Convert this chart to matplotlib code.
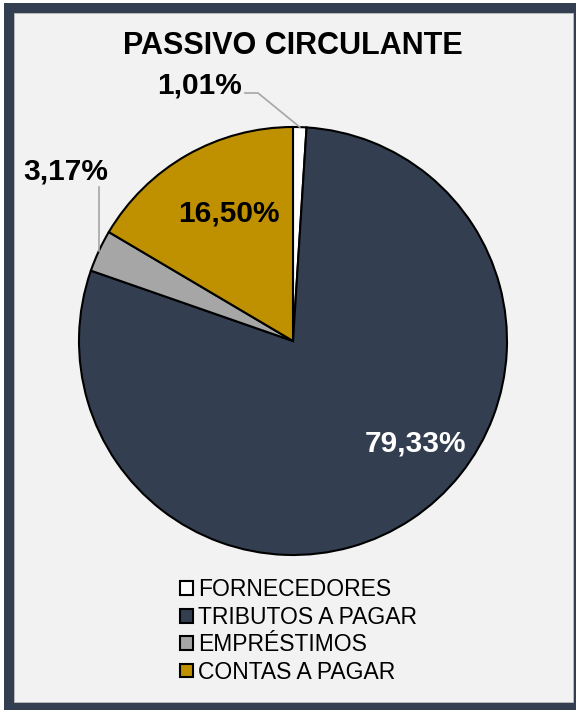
import matplotlib.pyplot as plt
from matplotlib.patches import Rectangle, Patch
import numpy as np

plt.rcParams['font.family'] = ['Liberation Sans', 'DejaVu Sans']

categorias = ['FORNECEDORES', 'TRIBUTOS A PAGAR', 'EMPRÉSTIMOS', 'CONTAS A PAGAR']
valores = [1.01, 79.33, 3.17, 16.50]
rotulos = ['1,01%', '79,33%', '3,17%', '16,50%']
cores = ['#FFFFFF', '#333F50', '#A6A6A6', '#BF9000']

W, H = 576, 710
fig = plt.figure(figsize=(W / 100, H / 100), dpi=100, facecolor='white')

# moldura escura + fundo cinza claro
fig.patches.append(Rectangle((4 / W, 0), 1, 1 - 3 / H, transform=fig.transFigure,
                             facecolor='#333F50', edgecolor='none', zorder=-2))
fig.patches.append(Rectangle((14 / W, (H - 702) / H), (573 - 14) / W, (702 - 13) / H,
                             transform=fig.transFigure, facecolor='#F2F2F2',
                             edgecolor='#BFBFBF', linewidth=0.6, zorder=-1))

fig.text(293 / W, 1 - 46 / H, 'PASSIVO CIRCULANTE', ha='center', va='center',
         fontsize=22, fontweight='bold')

# pizza
cx, cy, r = 293, 341, 214
ax = fig.add_axes([(cx - r) / W, (H - cy - r) / H, 2 * r / W, 2 * r / H])
ax.set_facecolor('none')
wedges, _ = ax.pie(valores, colors=cores, startangle=90, counterclock=False,
                   radius=1, wedgeprops=dict(edgecolor='black', linewidth=1.5))
ax.set_xlim(-1, 1)
ax.set_ylim(-1, 1)
ax.set_aspect('equal')
ax.axis('off')

def px(x, y):
    return ((x - cx) / r, (cy - y) / r)

# angulos medios das fatias
ang = []
for w in wedges:
    ang.append(np.deg2rad((w.theta1 + w.theta2) / 2))

# 1,01% com linha de chamada
p0 = (np.cos(ang[0]), np.sin(ang[0]))
ax.plot([px(245, 93)[0], px(258, 93)[0], p0[0]], [px(245, 93)[1], px(258, 93)[1], p0[1]],
        color='#A6A6A6', lw=1.2, clip_on=False)
ax.text(*px(242, 86), rotulos[0], ha='right', va='center', fontsize=21.5,
        fontweight='bold')

# 3,17% com linha de chamada
p2 = (np.cos(ang[2]), np.sin(ang[2]))
ax.plot([p2[0], p2[0]], [px(0, 187)[1], p2[1]], color='#A6A6A6', lw=1.2, clip_on=False)
ax.text(*px(66, 172), rotulos[2], ha='center', va='center', fontsize=21.5,
        fontweight='bold')

ax.text(*px(229, 213), rotulos[3], ha='center', va='center', fontsize=21.5,
        fontweight='bold', color='black')
ax.text(*px(415, 444), rotulos[1], ha='center', va='center', fontsize=21.5,
        fontweight='bold', color='white')

handles = [Patch(facecolor=c, edgecolor='black', linewidth=1.5) for c in cores]
fig.legend(handles, categorias, loc='upper left',
           bbox_to_anchor=(169 / W, 1 - 567 / H), frameon=False, fontsize=16.5,
           handlelength=0.55, handleheight=0.55, handletextpad=0.2,
           labelspacing=0.19, borderpad=0)

fig.savefig('out.png', dpi=100, facecolor=fig.get_facecolor())
